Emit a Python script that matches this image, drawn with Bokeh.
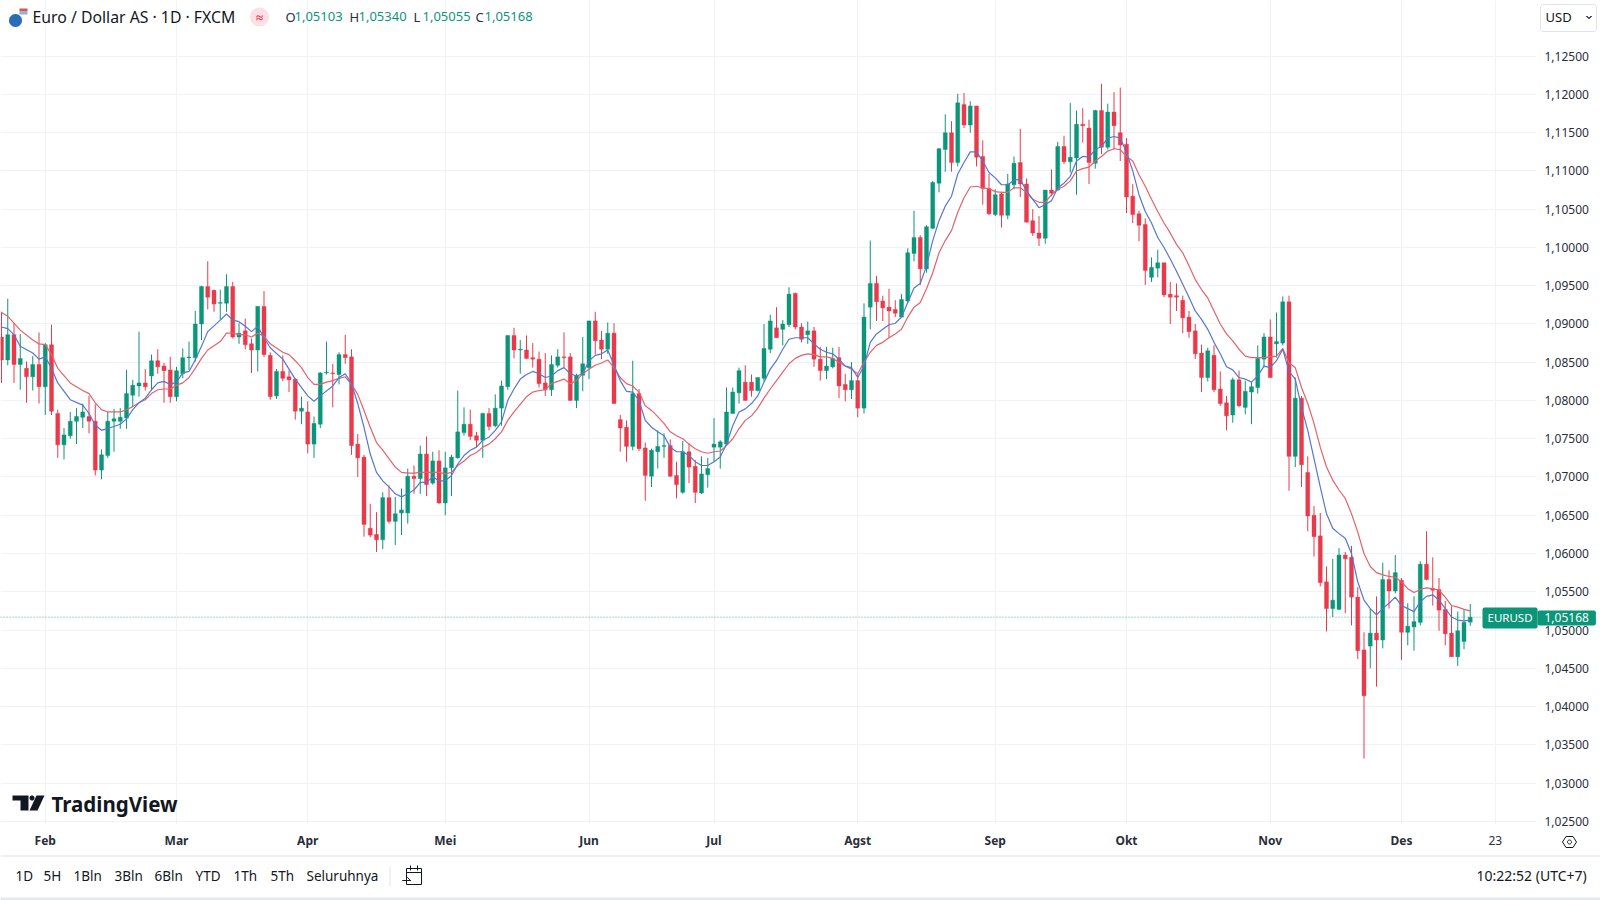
import math
from bokeh.embed import file_html
from bokeh.resources import INLINE
from bokeh.plotting import figure
from bokeh.models import (ColumnDataSource, FixedTicker, Grid, Label, LinearAxis, PolyAnnotation, Range1d, Span)

opens = [
 1.0883,1.0853,1.0886,1.0847,1.0842,1.0831,1.0847,1.0818,1.0873,1.0783,
 1.0742,1.0754,1.0773,1.0778,1.0779,1.0773,1.0709,1.0728,1.0773,1.0773,
 1.0777,1.0807,1.0819,1.0823,1.0832,1.0852,1.0845,1.0840,1.0805,1.0835,
 1.0856,1.0856,1.0900,1.0949,1.0944,1.0927,1.0927,1.0949,1.0883,1.0891,
 1.0874,1.0866,1.0923,1.0859,1.0806,1.0838,1.0831,1.0828,1.0786,1.0785,
 1.0743,1.0769,1.0836,1.0836,1.0834,1.0860,1.0857,1.0743,1.0726,1.0633,
 1.0625,1.0618,1.0673,1.0642,1.0653,1.0653,1.0701,1.0698,1.0730,1.0692,
 1.0721,1.0666,1.0712,1.0725,1.0758,1.0769,1.0754,1.0748,1.0783,1.0767,
 1.0790,1.0818,1.0885,1.0866,1.0866,1.0856,1.0854,1.0823,1.0814,1.0846,
 1.0857,1.0857,1.0800,1.0833,1.0843,1.0904,1.0879,1.0867,1.0888,1.0775,
 1.0765,1.0740,1.0809,1.0738,1.0701,1.0733,1.0740,1.0741,1.0702,1.0680,
 1.0733,1.0714,1.0679,1.0703,1.0739,1.0739,1.0743,1.0783,1.0810,1.0824,
 1.0824,1.0813,1.0829,1.0867,1.0895,1.0893,1.0899,1.0940,1.0896,1.0886,
 1.0891,1.0854,1.0839,1.0844,1.0856,1.0821,1.0814,1.0826,1.0790,1.0922,
 1.0953,1.0930,1.0922,1.0919,1.0909,1.0930,1.0992,1.1013,1.0972,1.1025,
 1.1084,1.1128,1.1150,1.1111,1.1187,1.1160,1.1185,1.1119,1.1077,1.1043,
 1.1070,1.1042,1.1082,1.1111,1.1083,1.1035,1.1019,1.1012,1.1075,1.1075,
 1.1132,1.1112,1.1117,1.1161,1.1156,1.1110,1.1179,1.1131,1.1177,1.1150,
 1.1135,1.1067,1.1044,1.1030,1.0961,1.0973,1.0980,1.0939,1.0937,1.0931,
 1.0909,1.0891,1.0862,1.0830,1.0859,1.0815,1.0797,1.0781,1.0827,1.0791,
 1.0811,1.0817,1.0854,1.0883,1.0874,1.0875,1.0929,1.0727,1.0803,1.0706,
 1.0650,1.0623,1.0563,1.0528,1.0527,1.0598,1.0595,1.0543,1.0474,1.0479,
 1.0496,1.0487,1.0566,1.0551,1.0565,1.0497,1.0504,1.0510,1.0586,1.0554,
 1.0553,1.0527,1.0496,1.0465,1.0485,1.05103]
highs = [
 1.0916,1.0933,1.0901,1.0887,1.0851,1.0858,1.0889,1.0875,1.0899,1.0788,
 1.0764,1.0785,1.0790,1.0796,1.0806,1.0795,1.0736,1.0785,1.0789,1.0790,
 1.0840,1.0827,1.0890,1.0841,1.0860,1.0867,1.0849,1.0857,1.0844,1.0868,
 1.0877,1.0917,1.0950,1.0982,1.0945,1.0945,1.0965,1.0955,1.0901,1.0907,
 1.0881,1.0923,1.0943,1.0863,1.0841,1.0859,1.0839,1.0829,1.0805,1.0799,
 1.0779,1.0837,1.0877,1.0848,1.0863,1.0886,1.0867,1.0756,1.0729,1.0665,
 1.0654,1.0680,1.0689,1.0674,1.0685,1.0711,1.0715,1.0741,1.0753,1.0733,
 1.0735,1.0733,1.0729,1.0813,1.0791,1.0788,1.0759,1.0784,1.0790,1.0808,
 1.0826,1.0885,1.0895,1.0879,1.0885,1.0875,1.0864,1.0862,1.0859,1.0867,
 1.0889,1.0862,1.0835,1.0883,1.0904,1.0916,1.0891,1.0902,1.0901,1.0781,
 1.0774,1.0852,1.0815,1.0745,1.0737,1.0761,1.0757,1.0749,1.0720,1.0747,
 1.0744,1.0722,1.0727,1.0725,1.0777,1.0748,1.0817,1.0817,1.0843,1.0846,
 1.0834,1.0830,1.0900,1.0912,1.0922,1.0905,1.0948,1.0941,1.0901,1.0903,
 1.0896,1.0870,1.0870,1.0869,1.0870,1.0835,1.0850,1.0835,1.0927,1.1009,
 1.0963,1.0937,1.0946,1.0931,1.0939,1.0999,1.1048,1.1016,1.1029,1.1087,
 1.1130,1.1174,1.1165,1.1201,1.1202,1.1191,1.1185,1.1140,1.1096,1.1076,
 1.1073,1.1096,1.1119,1.1155,1.1090,1.1050,1.1041,1.1075,1.1102,1.1138,
 1.1146,1.1189,1.1179,1.1182,1.1167,1.1180,1.1214,1.1188,1.1203,1.1209,
 1.1143,1.1083,1.1048,1.1038,1.0987,1.0997,1.0980,1.0955,1.0953,1.0937,
 1.0917,1.0900,1.0873,1.0869,1.0872,1.0838,1.0806,1.0830,1.0839,1.0826,
 1.0824,1.0872,1.0888,1.0906,1.0915,1.0936,1.0937,1.0830,1.0806,1.0727,
 1.0662,1.0653,1.0583,1.0593,1.0607,1.0602,1.0610,1.0556,1.0497,1.0528,
 1.0544,1.0588,1.0578,1.0598,1.0568,1.0535,1.0544,1.0590,1.0629,1.0595,
 1.0568,1.0538,1.0531,1.0524,1.0526,1.05340]
lows = [
 1.0823,1.0846,1.0823,1.0814,1.0797,1.0813,1.0796,1.0781,1.0781,1.0725,
 1.0723,1.0750,1.0743,1.0764,1.0757,1.0702,1.0697,1.0725,1.0733,1.0763,
 1.0763,1.0792,1.0805,1.0813,1.0814,1.0835,1.0797,1.0797,1.0799,1.0829,
 1.0840,1.0851,1.0879,1.0919,1.0916,1.0905,1.0916,1.0881,1.0874,1.0867,
 1.0836,1.0838,1.0857,1.0801,1.0802,1.0825,1.0811,1.0775,1.0769,1.0731,
 1.0725,1.0764,1.0834,1.0791,1.0821,1.0848,1.0729,1.0700,1.0622,1.0621,
 1.0602,1.0606,1.0639,1.0611,1.0624,1.0639,1.0678,1.0678,1.0675,1.0690,
 1.0665,1.0650,1.0675,1.0724,1.0754,1.0748,1.0739,1.0725,1.0761,1.0765,
 1.0767,1.0814,1.0855,1.0835,1.0854,1.0843,1.0817,1.0806,1.0806,1.0843,
 1.0843,1.0800,1.0790,1.0812,1.0828,1.0860,1.0854,1.0861,1.0796,1.0733,
 1.0720,1.0735,1.0734,1.0669,1.0687,1.0711,1.0725,1.0700,1.0672,1.0678,
 1.0692,1.0666,1.0678,1.0686,1.0720,1.0711,1.0743,1.0783,1.0796,1.0800,
 1.0805,1.0812,1.0825,1.0862,1.0882,1.0872,1.0896,1.0893,1.0876,1.0874,
 1.0844,1.0826,1.0828,1.0842,1.0803,1.0799,1.0802,1.0778,1.0783,1.0893,
 1.0904,1.0904,1.0882,1.0909,1.0909,1.0928,1.0982,1.0951,1.0967,1.1024,
 1.1072,1.1099,1.1099,1.1106,1.1156,1.1150,1.1106,1.1056,1.1042,1.1041,
 1.1026,1.1037,1.1076,1.1066,1.1033,1.1015,1.1002,1.1005,1.1067,1.1074,
 1.1109,1.1098,1.1069,1.1137,1.1083,1.1103,1.1122,1.1128,1.1128,1.1113,
 1.1045,1.1032,1.1008,1.0951,1.0955,1.0961,1.0935,1.0900,1.0917,1.0888,
 1.0882,1.0854,1.0811,1.0825,1.0811,1.0793,1.0761,1.0771,1.0791,1.0782,
 1.0769,1.0809,1.0843,1.0830,1.0856,1.0872,1.0682,1.0713,1.0687,1.0629,
 1.0596,1.0557,1.0498,1.0517,1.0526,1.0522,1.0506,1.0462,1.0332,1.0450,
 1.0426,1.0476,1.0528,1.0548,1.0461,1.0480,1.0473,1.0506,1.0565,1.0532,
 1.0499,1.0480,1.0465,1.0453,1.0475,1.05055]
closes = [
 1.0853,1.0886,1.0847,1.0855,1.0831,1.0847,1.0818,1.0873,1.0786,1.0742,
 1.0755,1.0773,1.0779,1.0785,1.0773,1.0709,1.0729,1.0773,1.0776,1.0778,
 1.0809,1.0820,1.0823,1.0818,1.0852,1.0844,1.0839,1.0805,1.0839,1.0856,
 1.0857,1.0900,1.0949,1.0935,1.0926,1.0928,1.0949,1.0883,1.0888,1.0873,
 1.0866,1.0923,1.0860,1.0805,1.0838,1.0829,1.0827,1.0786,1.0790,1.0743,
 1.0770,1.0836,1.0837,1.0835,1.0860,1.0856,1.0741,1.0725,1.0638,1.0624,
 1.0618,1.0673,1.0642,1.0652,1.0657,1.0701,1.0698,1.0730,1.0690,1.0721,
 1.0666,1.0712,1.0726,1.0759,1.0769,1.0753,1.0748,1.0783,1.0766,1.0790,
 1.0819,1.0885,1.0866,1.0867,1.0855,1.0854,1.0822,1.0814,1.0847,1.0857,
 1.0856,1.0800,1.0833,1.0848,1.0904,1.0878,1.0867,1.0888,1.0796,1.0764,
 1.0740,1.0809,1.0737,1.0702,1.0735,1.0740,1.0741,1.0701,1.0690,1.0733,
 1.0713,1.0680,1.0704,1.0711,1.0743,1.0746,1.0785,1.0811,1.0839,1.0800,
 1.0813,1.0830,1.0868,1.0904,1.0882,1.0900,1.0939,1.0896,1.0880,1.0891,
 1.0854,1.0839,1.0845,1.0855,1.0819,1.0814,1.0826,1.0790,1.0909,1.0953,
 1.0929,1.0921,1.0917,1.0914,1.0932,1.0993,1.1013,1.0972,1.1027,1.1085,
 1.1129,1.1150,1.1111,1.1189,1.1160,1.1185,1.1118,1.1077,1.1044,1.1069,
 1.1042,1.1083,1.1110,1.1083,1.1033,1.1019,1.1012,1.1075,1.1071,1.1132,
 1.1112,1.1118,1.1161,1.1159,1.1111,1.1179,1.1131,1.1177,1.1159,1.1134,
 1.1066,1.1043,1.1029,1.0970,1.0974,1.0980,1.0938,1.0935,1.0935,1.0908,
 1.0890,1.0861,1.0830,1.0865,1.0814,1.0796,1.0780,1.0827,1.0793,1.0812,
 1.0818,1.0855,1.0883,1.0830,1.0877,1.0929,1.0727,1.0803,1.0716,1.0649,
 1.0622,1.0562,1.0528,1.0539,1.0598,1.0593,1.0543,1.0473,1.0414,1.0496,
 1.0487,1.0566,1.0551,1.0575,1.0497,1.0505,1.0511,1.0586,1.0566,1.0552,
 1.0526,1.0495,1.0465,1.0499,1.0510,1.05168]

ema_fast_idx = [0,1,2,3,5,6,7,8,9,11,13,14,15,16,18,19,20,21,22,23,24,25,26,27,28,29,30,31,32,33,35,36,37,38,39,40,41,42,
 43,45,47,49,50,51,53,54,55,56,57,58,59,60,61,62,63,64,65,66,67,68,69,70,71,72,73,74,75,76,77,78,79,80,81,82,83,84,
 85,86,87,88,89,90,91,92,93,94,95,96,97,98,99,100,101,102,103,104,105,106,107,108,109,110,111,112,113,114,115,116,117,118,119,120,121,122,123,124,125,
 126,127,128,129,130,131,132,133,134,135,136,137,138,139,140,141,142,143,144,145,146,147,148,149,150,151,152,153,154,155,156,157,158,159,160,161,162,163,164,165,166,167,
 168,169,170,171,172,173,174,175,176,177,178,179,180,181,182,183,184,185,186,187,188,189,190,191,192,193,194,195,196,197,198,199,200,201,202,203,204,205,206,
 207,208,209,210,211,212,213,214,215,216,217,218,219,220,221,222,223,224,225,226,227,228,229,230,231,232,233,234,235]
ema_fast = [1.0896,1.0894,1.0886,1.0871,1.0862,1.0854,1.0857,1.0842,1.0823,1.0801,1.0794,1.0783,1.0768,1.0761,1.0766,1.0769,1.0776,1.0788,1.0797,1.0803,1.0814,1.0823,1.0825,1.0821,1.0824,1.0836,1.0838,1.0853,1.0871,1.0890,1.0905,1.0913,1.0905,1.0903,1.0897,1.0890,1.0897,1.0882,
 1.0869,1.0854,1.0828,1.0806,1.0799,1.0806,1.0819,1.0830,1.0835,1.0822,1.0796,1.0765,1.0730,1.0706,1.0695,1.0687,1.0678,1.0674,1.0678,1.0683,1.0693,1.0693,1.0700,1.0695,1.0695,1.0702,1.0717,1.0728,1.0735,1.0739,1.0748,1.0752,1.0761,1.0772,1.0800,1.0815,1.0828,1.0834,
 1.0838,1.0835,1.0830,1.0832,1.0839,1.0843,1.0835,1.0832,1.0835,1.0852,1.0859,1.0861,1.0866,1.0846,1.0826,1.0812,1.0811,1.0800,1.0774,1.0765,1.0759,1.0754,1.0739,1.0733,1.0733,1.0728,1.0720,1.0715,1.0715,1.0720,1.0726,1.0743,1.0767,1.0785,1.0789,1.0796,1.0806,1.0824,1.0841,1.0852,1.0867,
 1.0880,1.0882,1.0882,1.0882,1.0874,1.0867,1.0863,1.0861,1.0854,1.0845,1.0843,1.0830,1.0845,1.0876,1.0887,1.0893,1.0899,1.0901,1.0909,1.0928,1.0947,1.0953,1.0976,1.1009,1.1035,1.1054,1.1067,1.1096,1.1111,1.1125,1.1125,1.1113,1.1098,1.1091,1.1082,1.1082,1.1088,1.1089,1.1074,1.1063,1.1052,1.1056,
 1.1061,1.1078,1.1084,1.1093,1.1113,1.1119,1.1118,1.1128,1.1132,1.1143,1.1145,1.1143,1.1124,1.1100,1.1069,1.1047,1.1032,1.1013,1.1000,1.0985,1.0969,1.0952,1.0935,1.0917,1.0906,1.0893,1.0876,1.0861,1.0844,1.0840,1.0830,1.0828,1.0824,1.0832,1.0845,1.0843,1.0852,1.0867,1.0838,
 1.0828,1.0791,1.0761,1.0724,1.0687,1.0652,1.0633,1.0626,1.0620,1.0600,1.0563,1.0539,1.0528,1.0520,1.0528,1.0535,1.0543,1.0532,1.0528,1.0524,1.0537,1.0544,1.0546,1.0539,1.0528,1.0517,1.0513,1.0512,1.0513]

ema_slow_idx = [0,1,2,3,5,6,7,8,9,11,13,14,15,16,17,19,20,21,22,23,24,25,26,27,28,29,30,31,32,33,35,36,37,38,39,40,41,42,
 43,45,46,47,48,49,50,51,52,53,54,55,56,57,58,59,60,61,62,63,64,65,66,67,68,69,70,71,72,73,74,75,76,77,78,79,80,81,82,83,84,
 85,86,87,88,89,90,91,92,93,94,95,96,97,98,99,100,101,102,103,104,105,106,107,108,109,110,111,112,113,114,115,116,117,118,119,120,121,122,123,124,125,126,
 127,128,129,130,131,132,133,134,135,136,137,138,139,140,141,142,143,144,145,146,147,148,149,150,151,152,153,154,155,156,157,158,159,160,161,162,163,164,165,166,167,
 168,169,170,171,172,173,174,175,176,177,178,179,180,181,182,183,184,185,186,187,188,189,190,191,192,193,194,195,196,197,198,199,200,201,202,203,204,205,206,
 207,208,209,210,211,212,213,214,215,216,217,218,219,220,221,222,223,224,225,226,227,228,229,230,231,232,233,234,235]
ema_slow = [1.0915,1.0910,1.0901,1.0892,1.0879,1.0874,1.0873,1.0860,1.0842,1.0823,1.0813,1.0809,1.0797,1.0788,1.0785,1.0785,1.0788,1.0792,1.0797,1.0801,1.0809,1.0814,1.0815,1.0815,1.0820,1.0823,1.0830,1.0842,1.0855,1.0866,1.0877,1.0888,1.0888,1.0886,1.0886,1.0883,1.0888,1.0884,
 1.0874,1.0863,1.0860,1.0852,1.0843,1.0830,1.0821,1.0821,1.0824,1.0826,1.0829,1.0831,1.0821,1.0808,1.0787,1.0765,1.0745,1.0735,1.0724,1.0713,1.0706,1.0705,1.0705,1.0706,1.0706,1.0706,1.0706,1.0704,1.0706,1.0715,1.0721,1.0728,1.0732,1.0739,1.0743,1.0750,1.0759,1.0774,1.0785,1.0795,1.0805,
 1.0811,1.0813,1.0814,1.0822,1.0825,1.0828,1.0822,1.0826,1.0835,1.0841,1.0846,1.0849,1.0853,1.0843,1.0830,1.0822,1.0819,1.0811,1.0793,1.0787,1.0779,1.0770,1.0759,1.0754,1.0750,1.0743,1.0737,1.0733,1.0731,1.0733,1.0734,1.0741,1.0750,1.0763,1.0774,1.0780,1.0790,1.0803,1.0815,1.0826,1.0837,1.0848,
 1.0855,1.0859,1.0861,1.0860,1.0857,1.0857,1.0855,1.0850,1.0845,1.0841,1.0835,1.0850,1.0863,1.0872,1.0876,1.0882,1.0887,1.0893,1.0909,1.0922,1.0928,1.0946,1.0967,1.0993,1.1009,1.1022,1.1046,1.1065,1.1079,1.1080,1.1078,1.1077,1.1073,1.1072,1.1072,1.1078,1.1078,1.1072,1.1063,1.1059,1.1059,
 1.1069,1.1076,1.1080,1.1087,1.1100,1.1103,1.1105,1.1113,1.1119,1.1126,1.1129,1.1128,1.1119,1.1113,1.1095,1.1080,1.1063,1.1047,1.1032,1.1019,1.1004,1.0993,1.0976,1.0958,1.0945,1.0934,1.0917,1.0900,1.0887,1.0878,1.0867,1.0858,1.0856,1.0856,1.0856,1.0857,1.0858,1.0868,1.0849,
 1.0843,1.0817,1.0796,1.0770,1.0739,1.0713,1.0696,1.0683,1.0672,1.0652,1.0628,1.0600,1.0583,1.0575,1.0572,1.0570,1.0569,1.0563,1.0554,1.0549,1.0553,1.0555,1.0554,1.0552,1.0543,1.0532,1.0530,1.0527,1.0525]

price_ticks = [1.025,1.03,1.035,1.04,1.045,1.05,1.055,1.06,1.065,1.07,1.075,1.08,1.085,1.09,1.095,1.10,1.105,1.11,1.115,1.12,1.125]
month_idx = [7,28,49,71,94,114,137,159,180,203,224,239]
month_names = ["Feb","Mar","Apr","Mei","Jun","Jul","Agst","Sep","Okt","Nov","Des",""]
range_buttons = ["1D","5H","1Bln","3Bln","6Bln","YTD","1Th","5Th","Seluruhnya"]
last_price = closes[-1]

W, H = 1600, 900
FONT = "Noto Sans"
INK = "#131722"
GREEN, RED = "#0b9579", "#e83a4b"

p = figure(width=W, height=H, output_backend="svg", toolbar_location=None,
           x_range=Range1d(-0.16, 245.6), y_range=Range1d(1.02458, 1.13228),
           min_border_left=0, min_border_top=0, min_border_right=64, min_border_bottom=76,
           frame_width=1536, frame_height=824, x_axis_type=None, y_axis_type=None)
p.outline_line_color = None
p.background_fill_color = "#ffffff"

yax = LinearAxis(ticker=FixedTicker(ticks=price_ticks),
                 major_label_overrides={t: f"{t:.5f}".replace(".", ",") for t in price_ticks})
yax.axis_line_color = None
yax.major_tick_line_color = None
yax.minor_tick_line_color = None
yax.major_label_standoff = 2
yax.major_label_text_font = FONT
yax.major_label_text_font_size = "12px"
yax.major_label_text_color = "#2a2e39"
p.add_layout(yax, "right")

xax = LinearAxis(ticker=FixedTicker(ticks=month_idx),
                 major_label_overrides=dict(zip(month_idx, month_names)))
xax.axis_line_color = None
xax.major_tick_line_color = None
xax.minor_tick_line_color = None
xax.major_label_standoff = 1
xax.major_label_text_font = FONT
xax.major_label_text_font_style = "bold"
xax.major_label_text_font_size = "12px"
xax.major_label_text_color = "#2a2e39"
p.add_layout(xax, "below")

p.add_layout(Grid(dimension=0, ticker=xax.ticker, grid_line_color="#f1f2f5", grid_line_width=1))
p.add_layout(Grid(dimension=1, ticker=yax.ticker, grid_line_color="#f1f2f5", grid_line_width=1))

idx = list(range(len(opens)))
colors = [GREEN if c >= o else RED for o, c in zip(opens, closes)]
src = ColumnDataSource(dict(i=idx, o=opens, h=highs, l=lows, c=closes, col=colors))
p.segment(x0="i", y0="l", x1="i", y1="h", color="col", line_width=1, source=src)
p.vbar(x="i", top="o", bottom="c", width=0.64, fill_color="col", line_color="col", line_width=0.4, source=src)
p.line(ema_slow_idx, ema_slow, line_color="#e2626f", line_width=1.2)
p.line(ema_fast_idx, ema_fast, line_color="#5577d0", line_width=1.2)
p.add_layout(Span(location=last_price, dimension="width", line_color=GREEN, line_dash="1 2", line_width=1, line_alpha=0.75))

# Transparent layer over the whole canvas for everything that sits outside the chart pane.
q = figure(width=W, height=H, output_backend="svg", toolbar_location=None,
           x_range=Range1d(-0.16, 255.84), y_range=Range1d(1.01479, 1.13228),
           min_border_left=0, min_border_top=0, min_border_right=0, min_border_bottom=0,
           frame_width=W, frame_height=H, x_axis_type=None, y_axis_type=None)
q.outline_line_color = None
q.background_fill_alpha = 0
q.border_fill_alpha = 0
q.xgrid.visible = False
q.ygrid.visible = False
q.styles = {"margin-top": f"-{H}px", "pointer-events": "none"}


def txt(x, y, s, size=14, color=INK, style="normal", align="left", **kw):
    q.add_layout(Label(x=x, y=y, x_units="canvas", y_units="canvas", text=s, text_font=FONT,
                       text_font_size=f"{size}px", text_color=color, text_font_style=style,
                       text_align=align, text_baseline="middle", **kw))


def poly(xs, ys, fill=INK, line=None, width=1):
    q.add_layout(PolyAnnotation(xs=xs, ys=ys, xs_units="canvas", ys_units="canvas",
                                fill_color=fill, fill_alpha=1 if fill else 0, line_color=line,
                                line_width=width, line_alpha=1 if line else 0))


def disc(cx, cy, r, fill=INK, line=None):
    a = [k * math.pi / 12 for k in range(24)]
    poly([cx + r * math.cos(t) for t in a], [cy + r * math.sin(t) for t in a], fill, line)


# header
disc(15, 20, 6.5, "#2a6db5")
poly([19, 27, 27, 19], [8, 8, 11, 11], "#d9534f")
poly([19, 27, 27, 19], [11, 11, 14, 14], "#8fb0dc")
txt(32, 16, "Euro / Dollar AS · 1D · FXCM", 15.8)
disc(259, 16.5, 9.5, "#fde0e5")
txt(259, 16, "≈", 13, RED, "bold", "center")
ohlc = [("O", 285, opens[-1]), ("H", 349, highs[-1]), ("L", 413, lows[-1]), ("C", 475, closes[-1])]
for name, x0, val in ohlc:
    txt(x0, 16, name, 13, "#2a2e39")
    txt(x0 + 9, 16, f"{val:.5f}".replace(".", ","), 13, GREEN)

# currency box
poly([1542, 1594, 1596, 1596, 1594, 1542, 1540, 1540], [4, 4, 6, 29, 31, 31, 29, 6], "#ffffff", "#e0e3eb")
txt(1545, 16, "USD", 13)
poly([1586, 1588.5, 1591, 1588.5], [15.5, 18, 15.5, 18], None, INK)

# last-price tags
q.add_layout(Label(x=1482, y=last_price, x_units="canvas", y_units="data", text="EURUSD", text_font=FONT,
                   text_font_size="11.5px", text_color="#ffffff", text_baseline="middle",
                   background_fill_color=GREEN, padding=(5, 3), border_radius=2))
q.add_layout(Label(x=1537, y=last_price, x_units="canvas", y_units="data",
                   text=f"{last_price:.5f}".replace(".", ","), text_font=FONT, text_font_size="12px",
                   text_color="#ffffff", text_baseline="middle", background_fill_color=GREEN,
                   padding=(7, 3), border_radius=2))

# logo
poly([12, 28, 28, 20, 20, 12], [795, 795, 810, 810, 800, 800])
poly([36, 44, 37, 29], [795, 795, 810, 810])
disc(31.5, 797.5, 2.5)
txt(51, 803, "TradingView", 20.5, INK, "bold")

# axis extras
q.add_layout(Label(x=month_idx[-1], y=840, x_units="data", y_units="canvas", text="23", text_font=FONT,
                   text_font_size="12px", text_color="#2a2e39", text_align="center", text_baseline="middle"))
poly([1562, 1565.5, 1572.5, 1576, 1572.5, 1565.5], [841.5, 836, 836, 841.5, 847, 847], None, INK)
disc(1569, 841.5, 2, None, INK)

# bottom bar
poly([0, 1600, 1600, 0], [855, 855, 856, 856], "#e0e3eb")
poly([0, 1600, 1600, 0], [897, 897, 900, 900], "#e3e7f0")
btn_x = [15, 43, 73, 114, 154, 195, 233, 270, 306]
for bx, b in zip(btn_x, range_buttons):
    txt(bx, 875, b, 13.5)
poly([389, 390, 390, 389], [866, 866, 886, 886], "#e0e3eb")
poly([406, 421, 421, 406], [868, 868, 884, 884], None, INK)
poly([406, 421, 421, 406], [872, 872, 872, 872], None, INK)
poly([410, 410], [865, 870], None, INK)
poly([417, 417], [865, 870], None, INK)
poly([402, 410, 407, 410], [880, 880, 877, 880], None, INK)
txt(1476, 875, "10:22:52 (UTC+7)", 14)

open("out.html", "w").write(file_html([p, q], INLINE))
